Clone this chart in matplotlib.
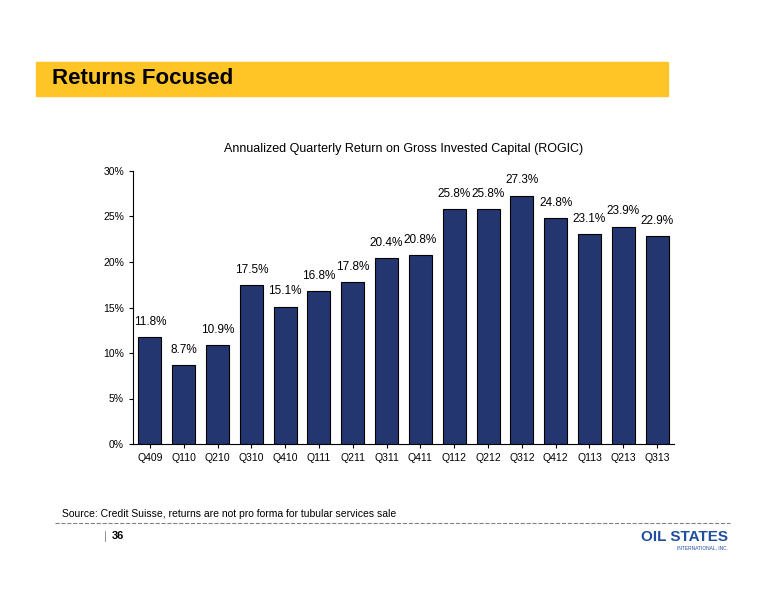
import matplotlib.pyplot as plt
from matplotlib.patches import Rectangle
import numpy as np

plt.rcParams['font.family'] = ['Liberation Sans', 'DejaVu Sans']

quarters = ["Q409", "Q110", "Q210", "Q310", "Q410", "Q111", "Q211", "Q311",
            "Q411", "Q112", "Q212", "Q312", "Q412", "Q113", "Q213", "Q313"]
rogic = [11.8, 8.7, 10.9, 17.5, 15.1, 16.8, 17.8, 20.4,
         20.8, 25.8, 25.8, 27.3, 24.8, 23.1, 23.9, 22.9]

fig = plt.figure(figsize=(7.76, 6.0), dpi=100)

# yellow title banner
fig.patches.append(Rectangle((36/776, 1-96/600), (668-36)/776, 34/600,
                             transform=fig.transFigure, color="#FFC425", zorder=0))
fig.text(52/776, 1-79/600, "Returns Focused", fontsize=16, fontweight="bold",
         va="center", ha="left")

ax = fig.add_axes([133/776, 1-444/600, (674-133)/776, (444-171)/600])
x = np.arange(len(quarters))
bars = ax.bar(x, rogic, width=0.68, color="#233670", edgecolor="black", linewidth=0.8)
for b, v in zip(bars, rogic):
    ax.text(b.get_x() + b.get_width()/2, v + 1.0, f"{v}%", ha="center",
            va="bottom", fontsize=8.5)
ax.set_xlim(-0.5, len(quarters) - 0.5)
ax.set_ylim(0, 30)
ax.set_yticks(range(0, 31, 5))
ax.set_yticklabels([f"{t}%" for t in range(0, 31, 5)], fontsize=7.5)
ax.set_xticks(x)
ax.set_xticklabels(quarters, fontsize=7.5)
ax.tick_params(length=3)
ax.spines["top"].set_visible(False)
ax.spines["right"].set_visible(False)
ax.set_title("Annualized Quarterly Return on Gross Invested Capital (ROGIC)",
             fontsize=9, pad=14)

fig.text(62/776, 1-514/600, "Source: Credit Suisse, returns are not pro forma for tubular services sale",
         fontsize=7.5, va="center")
fig.add_artist(plt.Line2D([55/776, 730/776], [1-523/600, 1-523/600],
                          transform=fig.transFigure, color="gray", lw=0.8, ls="--"))
fig.add_artist(plt.Line2D([105/776, 105/776], [1-531/600, 1-541/600],
                          transform=fig.transFigure, color="gray", lw=0.6))
fig.text(112/776, 1-536/600, "36", fontsize=8, fontweight="bold", va="center")
fig.text(728/776, 1-537/600, "OIL STATES", fontsize=11, fontweight="bold",
         color="#1F4E9C", ha="right", va="center")
fig.text(728/776, 1-548/600, "INTERNATIONAL, INC.", fontsize=3.5,
         color="#1F4E9C", ha="right", va="center")

fig.savefig("out.png", dpi=100)
